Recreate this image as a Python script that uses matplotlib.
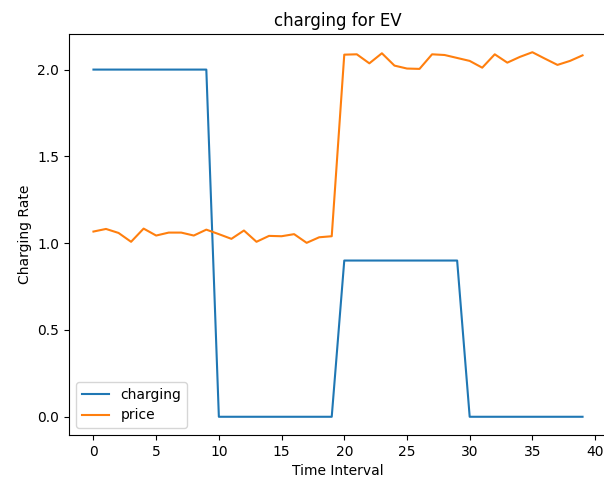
import numpy as np
import matplotlib
matplotlib.use("Agg")
import matplotlib.pyplot as plt

# valores
charging = [2.0] * 10 + [0.0] * 10 + [0.9] * 10 + [0.0] * 10
price = [1.067, 1.082, 1.059, 1.008, 1.084, 1.044, 1.061, 1.061, 1.044, 1.078,
         1.052, 1.025, 1.073, 1.008, 1.042, 1.040, 1.052, 1.002, 1.034, 1.040,
         2.086, 2.088, 2.036, 2.094, 2.023, 2.006, 2.004, 2.088, 2.084, 2.067,
         2.050, 2.011, 2.088, 2.040, 2.073, 2.100, 2.063, 2.027, 2.050, 2.082]

fig = plt.figure(figsize=(6.04, 4.83), dpi=100)
# o eixo passa da borda direita na figura original (recortada)
ax = fig.add_axes([69 / 604, 1 - 435 / 483, (607 - 69) / 604, (435 - 34) / 483])
ax.plot(charging, label='charging')
ax.plot(price, label='price')
ax.set_xlabel('Time Interval')
ax.set_ylabel('Charging Rate')
ax.set_title('charging for EV')
ax.legend(loc='lower left')
fig.savefig('out.png', dpi=100)
